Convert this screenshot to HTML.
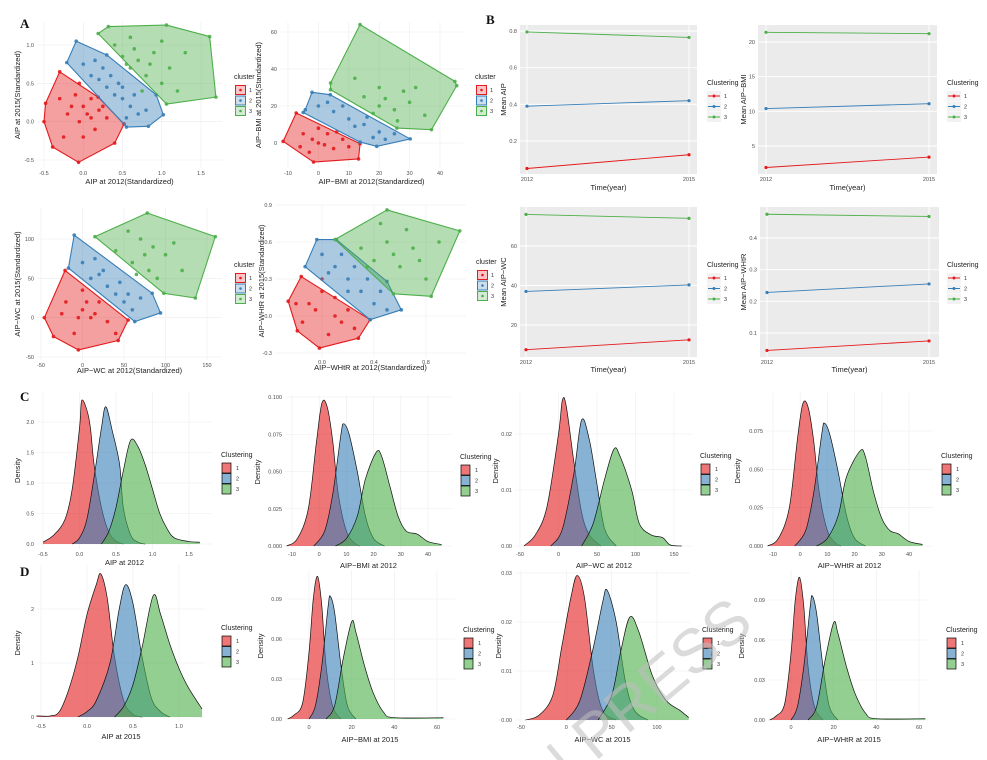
<!DOCTYPE html>
<html><head><meta charset="utf-8"><style>
html,body{margin:0;padding:0;background:#fff;overflow:hidden;width:987px;height:760px;}
svg{display:block;font-family:"Liberation Sans",sans-serif;overflow:hidden;}
</style></head><body>
<svg id="fig" width="987" height="760" viewBox="0 0 987 760" xmlns="http://www.w3.org/2000/svg"></svg>
<script>
// ---------- DATA ----------
const clusterNames = ["1","2","3"];
const years = [2012, 2015];
const b1Red=[0.05,0.125], b1Blue=[0.39,0.42], b1Green=[0.795,0.765];
const b2Red=[1.9,3.4], b2Blue=[10.4,11.1], b2Green=[21.4,21.2];
const b3Red=[7.5,12.5], b3Blue=[37,40.3], b3Green=[76,74];
const b4Red=[0.045,0.075], b4Blue=[0.228,0.255], b4Green=[0.475,0.468];
const a1RedHull=[[-0.30,0.65],[-0.48,0.24],[-0.5,0.0],[-0.39,-0.33],[-0.06,-0.53],[0.40,-0.28],[0.52,-0.03],[0.19,0.32]];
const a1BlueHull=[[-0.09,1.05],[0.30,0.87],[0.93,0.35],[1.02,0.09],[0.83,-0.06],[0.55,-0.07],[-0.21,0.77]];
const a1GreenHull=[[0.19,1.15],[0.32,1.24],[1.06,1.26],[1.61,1.11],[1.69,0.32],[1.06,0.23]];
const a1RedPts=[[-0.3,0.3],[-0.2,0.1],[-0.1,0.35],[0,0.2],[0.1,0.05],[0.2,0.15],[0,-0.2],[-0.25,-0.2],[0.15,-0.1],[0.3,0.05],[-0.05,0.5],[0.1,0.3],[-0.15,0.2],[0.05,0.1],[-0.05,0.0],[0.25,0.2]];
const a1BluePts=[[0,0.75],[0.1,0.6],[0.2,0.55],[0.3,0.45],[0.4,0.35],[0.5,0.3],[0.6,0.2],[0.7,0.1],[0.25,0.7],[0.45,0.5],[0.8,0.15],[0.55,0.05],[0.35,0.6],[0.5,0.45],[0.15,0.8],[0.65,0.35]];
const a1GreenPts=[[0.4,1.0],[0.5,0.85],[0.6,0.7],[0.7,0.8],[0.8,0.6],[0.9,0.9],[1.0,0.5],[1.1,0.7],[1.2,0.4],[0.6,1.1],[0.75,0.4],[1.3,0.9],[0.65,0.95],[0.85,0.75],[0.55,0.75],[1.0,1.05]];
const a2RedHull=[[-11.6,0.9],[-7.3,16.2],[13.7,-0.4],[13.2,-8.6],[-1.6,-10.3]];
const a2BlueHull=[[-4.3,18],[-2.1,27.4],[3.9,26.1],[30.2,2.2],[19.2,-1.8],[13.7,0.5],[-5,16.5]];
const a2GreenHull=[[4,32.4],[13.7,64],[44.9,33.3],[45.5,31],[37.2,7.2],[25.8,8.1],[4,28.8]];
const a2RedPts=[[-5,5],[0,0],[3,5],[5,-3],[-3,-5],[8,2],[0,8],[10,-2],[-2,2],[2,-1],[6,6],[-6,-2]];
const a2BluePts=[[0,20],[5,17],[10,13],[15,10],[20,6],[8,20],[18,3],[25,5],[12,9],[3,22],[16,14],[22,2]];
const a2GreenPts=[[15,25],[20,20],[25,18],[30,22],[20,30],[35,15],[12,35],[28,28],[22,24],[18,16],[26,12],[32,30]];
const a3RedHull=[[-21,60],[-46,0],[-35,-24],[-5,-41],[43,-29],[55,-3]];
const a3BlueHull=[[-10,105],[84,31],[94,6],[63,-5],[-17,63]];
const a3GreenHull=[[15,103],[78,133],[160,103],[136,25],[98,31]];
const a3RedPts=[[-20,20],[0,10],[10,0],[20,20],[-10,-20],[30,-5],[0,35],[40,-20],[-5,0],[15,5],[-25,5],[5,20]];
const a3BluePts=[[0,70],[20,55],[30,40],[40,30],[50,20],[60,10],[15,75],[70,25],[25,60],[45,45],[10,50],[55,30]];
const a3GreenPts=[[40,85],[60,70],[80,60],[70,100],[100,80],[90,50],[120,60],[55,110],[75,80],[65,55],[85,90],[110,95]];
const a4RedHull=[[-0.16,0.32],[-0.26,0.12],[-0.19,-0.12],[-0.02,-0.26],[0.28,-0.18],[0.37,-0.03]];
const a4BlueHull=[[-0.04,0.62],[0.11,0.62],[0.50,0.28],[0.61,0.05],[0.37,-0.03],[-0.13,0.40]];
const a4GreenHull=[[0.10,0.62],[0.50,0.86],[1.06,0.69],[0.84,0.16],[0.55,0.18]];
const a4RedPts=[[-0.1,0.1],[0,0.2],[0.1,0],[0.2,0.05],[-0.15,-0.05],[0.05,-0.15],[0.25,-0.1],[0.0,0.3],[-0.05,0.05],[0.1,0.15],[-0.2,0.1],[0.15,-0.05]];
const a4BluePts=[[0,0.5],[0.1,0.4],[0.2,0.3],[0.3,0.2],[0.4,0.1],[0.5,0.05],[0.15,0.5],[0.45,0.2],[0.25,0.4],[0.05,0.35],[0.35,0.3],[0.2,0.2]];
const a4GreenPts=[[0.3,0.55],[0.4,0.45],[0.5,0.6],[0.6,0.4],[0.7,0.55],[0.8,0.3],[0.45,0.75],[0.9,0.6],[0.55,0.5],[0.35,0.4],[0.65,0.7],[0.75,0.45]];
const c1Red=[[-0.5,0.03],[-0.35,0.15],[-0.2,0.4],[-0.1,0.9],[0,1.9],[0.03,2.35],[0.1,2.2],[0.15,1.9],[0.2,1.3],[0.3,0.6],[0.4,0.2],[0.5,0.05],[0.6,0]];
const c1Blue=[[-0.1,0],[0,0.1],[0.1,0.4],[0.2,1.1],[0.3,1.9],[0.36,2.25],[0.45,1.85],[0.55,1.3],[0.6,0.6],[0.7,0.15],[0.8,0.03],[0.9,0]];
const c1Green=[[0.3,0],[0.4,0.2],[0.5,0.6],[0.6,1.2],[0.7,1.7],[0.8,1.6],[0.9,1.3],[1.0,0.9],[1.1,0.5],[1.2,0.25],[1.3,0.1],[1.5,0.04],[1.65,0.03]];
const c2Red=[[-12,0],[-8,0.005],[-4,0.025],[-1,0.07],[1,0.096],[3,0.093],[5,0.07],[7,0.035],[10,0.01],[13,0.002],[15,0]];
const c2Blue=[[-2,0],[2,0.01],[5,0.035],[8,0.075],[9,0.082],[11,0.075],[14,0.05],[17,0.02],[20,0.005],[24,0]];
const c2Green=[[6,0],[10,0.005],[14,0.02],[17,0.045],[21,0.063],[23,0.06],[26,0.04],[29,0.02],[32,0.01],[36,0.008],[40,0.003],[45,0.001]];
const c3Red=[[-45,0],[-30,0.002],[-15,0.007],[0,0.02],[5,0.026],[10,0.025],[20,0.015],[30,0.006],[40,0.002],[55,0]];
const c3Blue=[[-10,0],[5,0.003],[20,0.013],[30,0.0225],[40,0.019],[50,0.011],[60,0.003],[75,0]];
const c3Green=[[30,0],[45,0.004],[60,0.012],[72,0.0173],[80,0.016],[95,0.01],[105,0.004],[120,0.002],[135,0.0015],[145,0.0002],[160,0]];
const c4Red=[[-12,0],[-8,0.005],[-4,0.025],[-1,0.07],[1,0.093],[3,0.09],[5,0.068],[7,0.035],[10,0.01],[13,0.002],[15,0]];
const c4Blue=[[-2,0],[2,0.01],[5,0.035],[8,0.074],[9,0.08],[11,0.072],[14,0.048],[17,0.02],[20,0.005],[24,0]];
const c4Green=[[6,0],[10,0.005],[14,0.02],[17,0.045],[22,0.062],[24,0.058],[27,0.035],[30,0.018],[33,0.01],[36,0.008],[40,0.003],[45,0.001]];
const d1Red=[[-0.55,0.02],[-0.4,0.02],[-0.3,0.1],[-0.2,0.5],[-0.1,1.1],[0,1.9],[0.1,2.45],[0.15,2.65],[0.22,2.2],[0.3,1.1],[0.4,0.3],[0.5,0.05],[0.6,0]];
const d1Blue=[[-0.1,0],[0,0.1],[0.1,0.3],[0.25,1.0],[0.35,2.0],[0.42,2.45],[0.5,2.1],[0.6,1.1],[0.7,0.35],[0.8,0.1],[0.9,0]];
const d1Green=[[0.3,0],[0.4,0.2],[0.5,0.6],[0.6,1.3],[0.72,2.25],[0.8,1.9],[0.9,1.35],[1.0,0.9],[1.1,0.55],[1.25,0.15]];
const d2Red=[[-10,0],[-7,0.003],[-3,0.012],[0,0.05],[2,0.09],[4,0.107],[6,0.085],[8,0.04],[11,0.01],[15,0]];
const d2Blue=[[0,0],[3,0.01],[6,0.04],[9,0.085],[10,0.092],[12,0.08],[15,0.04],[18,0.01],[22,0]];
const d2Green=[[8,0],[12,0.01],[16,0.045],[20,0.073],[22,0.065],[26,0.04],[30,0.02],[35,0.005],[40,0.001],[63,0.001]];
const d3Red=[[-45,0],[-30,0.001],[-15,0.005],[-5,0.015],[5,0.025],[12,0.0295],[20,0.025],[30,0.01],[40,0.002],[55,0]];
const d3Blue=[[0,0],[15,0.004],[30,0.015],[40,0.024],[45,0.0265],[55,0.02],[65,0.008],[75,0.002],[90,0]];
const d3Green=[[35,0],[50,0.005],[60,0.014],[70,0.021],[80,0.018],[95,0.009],[110,0.004],[125,0.002],[135,0.0005]];
const d4Red=[[-10,0],[-7,0.003],[-3,0.012],[0,0.05],[2,0.09],[4,0.107],[6,0.085],[8,0.04],[11,0.01],[15,0]];
const d4Blue=[[0,0],[3,0.01],[6,0.04],[9,0.085],[10,0.093],[12,0.08],[15,0.04],[18,0.01],[22,0]];
const d4Green=[[8,0],[12,0.01],[16,0.045],[20,0.073],[22,0.065],[26,0.04],[30,0.02],[35,0.005],[40,0.001],[63,0.001]];
const tA1x=["-0.5","0.0","0.5","1.0","1.5"], tA1y=["-0.5","0.0","0.5","1.0"];
const tA2x=["-10","0","10","20","30","40"], tA2y=["0","20","40","60"];
const tA3x=["-50","0","50","100","150"], tA3y=["-50","0","50","100"];
const tA4x=["0.0","0.4","0.8"], tA4y=["-0.3","0.0","0.3","0.6","0.9"];
const tBx=["2012","2015"];
const tB1y=["0.2","0.4","0.6","0.8"], tB2y=["5","10","15","20"], tB3y=["20","40","60"], tB4y=["0.1","0.2","0.3","0.4"];
const tC1x=["-0.5","0.0","0.5","1.0","1.5"], tC1y=["0.0","0.5","1.0","1.5","2.0"];
const tC2x=["-10","0","10","20","30","40"], tC2y=["0.000","0.025","0.050","0.075","0.100"];
const tC3x=["-50","0","50","100","150"], tC3y=["0.00","0.01","0.02"];
const tC4x=["-10","0","10","20","30","40"], tC4y=["0.000","0.025","0.050","0.075"];
const tD1x=["-0.5","0.0","0.5","1.0"], tD1y=["0","1","2"];
const tD2x=["0","20","40","60"], tD2y=["0.00","0.03","0.06","0.09"];
const tD3x=["-50","0","50","100"], tD3y=["0.00","0.01","0.02","0.03"];
const tD4x=["0","20","40","60"], tD4y=["0.00","0.03","0.06","0.09"];

// ---------- RENDER ----------
const NS="http://www.w3.org/2000/svg";
const svg=document.getElementById('fig');
const COL=["#E41A1C","#377EB8","#4DAF4A"];
function mk(tag,attrs,parent){const e=document.createElementNS(NS,tag);for(const k in attrs)e.setAttribute(k,attrs[k]);(parent||svg).appendChild(e);return e;}
function lin(d0,p0,d1,p1){return v=>p0+(v-d0)*(p1-p0)/(d1-d0);}
function txt(x,y,s,size,opts,parent){const t=mk('text',Object.assign({x:x,y:y,'font-size':size,fill:'#4d4d4d'},opts||{}),parent);t.textContent=s;return t;}
function smooth(pts){let d="M"+pts[0][0]+","+pts[0][1];for(let i=0;i<pts.length-1;i++){const p0=pts[i-1]||pts[i],p1=pts[i],p2=pts[i+1],p3=pts[i+2]||p2;const c1x=p1[0]+(p2[0]-p0[0])/6,c1y=p1[1]+(p2[1]-p0[1])/6,c2x=p2[0]-(p3[0]-p1[0])/6,c2y=p2[1]-(p3[1]-p1[1])/6;d+=` C${c1x},${c1y} ${c2x},${c2y} ${p2[0]},${p2[1]}`;}return d;}

function axes(P){
  const g=mk('g',{});
  
  
  const [l,t,r,b]=P.box;
  const sx=lin(P.xm[0],P.xm[1],P.xm[2],P.xm[3]), sy=lin(P.ym[0],P.ym[1],P.ym[2],P.ym[3]);
  const bg=mk('rect',{x:l,y:t,width:r-l,height:b-t,fill:P.gray?'#EBEBEB':'#fff'},g);
  
  
  const gc=P.gray?'#fff':'#ececec';
  P.xt.forEach(s=>{const x=sx(parseFloat(s));if(x<l-1||x>r+1)return;mk('line',{x1:x,x2:x,y1:t,y2:b,stroke:gc,'stroke-width':P.gray?0.9:0.6},g);
    const tl=txt(x,b+7,s,5.5,{'text-anchor':'middle'},g);
    
    });
  P.yt.forEach(s=>{const y=sy(parseFloat(s));mk('line',{x1:l,x2:r,y1:y,y2:y,stroke:gc,'stroke-width':P.gray?0.9:0.6},g);
    const tl=txt(l-3,y+2,s,5.5,{'text-anchor':'end'},g);
    
    });
  const xt=txt((l+r)/2,P.xty,P.xtitle,7.5,{'text-anchor':'middle',fill:'#222'},g);
  
  
  const yy=(t+b)/2;
  const yt=txt(P.ytx,yy,P.ytitle,7.5,{'text-anchor':'middle',fill:'#222',transform:`rotate(-90 ${P.ytx} ${yy})`},g);
  
  
  return {g,sx,sy};
}

function legend(type,x,y,title){
  const g=mk('g',{});
  
  
  const tt=txt(x,y,title,7,{fill:'#222'},g);
  
  
  for(let i=0;i<3;i++){
    const cy=y+11+i*10.5;
    const e=mk('g',{},g);
    
    
    if(type==='a'){mk('rect',{x:x+1.5,y:cy-4.5,width:10,height:9,fill:COL[i],'fill-opacity':0.25,stroke:COL[i],'stroke-width':1},e);mk('circle',{cx:x+6.5,cy:cy,r:1.3,fill:COL[i]},e);}
    else if(type==='b'){mk('rect',{x:x,y:cy-5,width:14,height:10,fill:'#F2F2F2'},e);mk('line',{x1:x+1,x2:x+13,y1:cy,y2:cy,stroke:COL[i],'stroke-width':1},e);mk('circle',{cx:x+7,cy:cy,r:1.5,fill:COL[i]},e);}
    else {mk('rect',{x:x+1,y:cy-5,width:9,height:10,fill:COL[i],'fill-opacity':0.6,stroke:'#000','stroke-width':0.7},e);}
    txt(x+(type==='b'?17:15),cy+2,clusterNames[i],5.5,{fill:'#333'},e);
  }
}

function scatterPanel(P,hulls,pts){
  const A=axes(P);
  for(let i=0;i<3;i++){
    const d="M"+hulls[i].map(p=>A.sx(p[0])+","+A.sy(p[1])).join("L")+"Z";
    const h=mk('path',{d:d,fill:COL[i],'fill-opacity':0.42,stroke:COL[i],'stroke-width':1.1,'stroke-linejoin':'round'},A.g);
    
    
    const cg=mk('g',{},A.g);
    
    
    hulls[i].concat(pts[i]).forEach(p=>{
      const c=mk('circle',{cx:A.sx(p[0]),cy:A.sy(p[1]),r:1.8,fill:COL[i],'fill-opacity':0.9},cg);
      
      
    });
  }
}
function linePanel(P,series){
  const A=axes(P);
  series.forEach((s,i)=>{
    const pts=years.map((yr,j)=>[A.sx(yr),A.sy(s[j])]);
    const l=mk('polyline',{points:pts.map(p=>p.join(",")).join(" "),fill:'none',stroke:COL[i],'stroke-width':0.9},A.g);
    
    
    pts.forEach(p=>{const c=mk('circle',{cx:p[0],cy:p[1],r:1.6,fill:COL[i]},A.g);
      
      });
  });
}
function densityPanel(P,series){
  const A=axes(P);
  series.forEach((s,i)=>{
    const pts=s.map(p=>[A.sx(p[0]),A.sy(p[1])]);
    const top=smooth(pts);
    const d=top+` L${pts[pts.length-1][0]},${A.sy(0)} L${pts[0][0]},${A.sy(0)} Z`;
    const a=mk('path',{d:d,fill:COL[i],'fill-opacity':0.6,stroke:'none'},A.g);
    
    
    const l=mk('path',{d:top,fill:'none',stroke:'#111','stroke-width':0.7},A.g);
    
    
  });
}

scatterPanel({name:'panel-a1',box:[37,22,222,168],xm:[-0.5,44,1.5,201],ym:[1.0,45,-0.5,160],xt:tA1x,yt:tA1y,xtitle:'AIP at 2012(Standardized)',ytitle:'AIP at 2015(Standardized)',xty:184,ytx:20},[a1RedHull,a1BlueHull,a1GreenHull],[a1RedPts,a1BluePts,a1GreenPts]);
legend('a',234,79,'cluster');
scatterPanel({name:'panel-a2',box:[280,22,463,168],xm:[-10,288,40,440],ym:[60,32,0,143],xt:tA2x,yt:tA2y,xtitle:'AIP−BMI at 2012(Standardized)',ytitle:'AIP−BMI at 2015(Standardized)',xty:184,ytx:261},[a2RedHull,a2BlueHull,a2GreenHull],[a2RedPts,a2BluePts,a2GreenPts]);
legend('a',475,79,'cluster');
scatterPanel({name:'panel-a3',box:[37,208,222,360],xm:[-50,41,150,207],ym:[100,239,-50,357],xt:tA3x,yt:tA3y,xtitle:'AIP−WC at 2012(Standardized)',ytitle:'AIP−WC at 2015(Standardized)',xty:373,ytx:20},[a3RedHull,a3BlueHull,a3GreenHull],[a3RedPts,a3BluePts,a3GreenPts]);
legend('a',234,267,'cluster');
scatterPanel({name:'panel-a4',box:[275,205,466,357],xm:[0,322,0.8,426],ym:[0.9,205,-0.3,353],xt:tA4x,yt:tA4y,xtitle:'AIP−WHtR at 2012(Standardized)',ytitle:'AIP−WHtR at 2015(Standardized)',xty:370,ytx:264},[a4RedHull,a4BlueHull,a4GreenHull],[a4RedPts,a4BluePts,a4GreenPts]);
legend('a',476,264,'cluster');

linePanel({name:'panel-b1',gray:true,box:[520,25,697,174],xm:[2012,527,2015,689],ym:[0.8,31,0.2,141],xt:tBx,yt:tB1y,xtitle:'Time(year)',ytitle:'Mean AIP',xty:190,ytx:506},[b1Red,b1Blue,b1Green]);
legend('b',707,85,'Clustering');
linePanel({name:'panel-b2',gray:true,box:[758,25,937,174],xm:[2012,766,2015,929],ym:[20,42,5,146],xt:tBx,yt:tB2y,xtitle:'Time(year)',ytitle:'Mean AIP−BMI',xty:190,ytx:746},[b2Red,b2Blue,b2Green]);
legend('b',947,85,'Clustering');
linePanel({name:'panel-b3',gray:true,box:[520,207,697,357],xm:[2012,526,2015,689],ym:[60,246,20,325],xt:tBx,yt:tB3y,xtitle:'Time(year)',ytitle:'Mean AIP−WC',xty:372,ytx:506},[b3Red,b3Blue,b3Green]);
legend('b',707,267,'Clustering');
linePanel({name:'panel-b4',gray:true,box:[760,207,939,357],xm:[2012,767,2015,929],ym:[0.4,238,0.1,333],xt:tBx,yt:tB4y,xtitle:'Time(year)',ytitle:'Mean AIP−WHtR',xty:372,ytx:746},[b4Red,b4Blue,b4Green]);
legend('b',947,267,'Clustering');

densityPanel({name:'panel-c1',box:[37,392,212,549],xm:[-0.5,43,1.5,189],ym:[2.0,422,0,544],xt:tC1x,yt:tC1y,xtitle:'AIP at 2012',ytitle:'Density',xty:565,ytx:20},[c1Red,c1Blue,c1Green]);
legend('c',221,457,'Clustering');
densityPanel({name:'panel-c2',box:[285,395,452,549],xm:[-10,292,40,428],ym:[0.1,397,0,546],xt:tC2x,yt:tC2y,xtitle:'AIP−BMI at 2012',ytitle:'Density',xty:568,ytx:260},[c2Red,c2Blue,c2Green]);
legend('c',460,459,'Clustering');
densityPanel({name:'panel-c3',box:[515,393,693,549],xm:[-50,520,150,674],ym:[0.02,434,0,546],xt:tC3x,yt:tC3y,xtitle:'AIP−WC at 2012',ytitle:'Density',xty:568,ytx:498},[c3Red,c3Blue,c3Green]);
legend('c',700,458,'Clustering');
densityPanel({name:'panel-c4',box:[766,393,933,549],xm:[-10,773,40,909],ym:[0.075,431,0,546],xt:tC4x,yt:tC4y,xtitle:'AIP−WHtR at 2012',ytitle:'Density',xty:568,ytx:740},[c4Red,c4Blue,c4Green]);
legend('c',941,458,'Clustering');

densityPanel({name:'panel-d1',box:[37,565,205,721],xm:[-0.5,41,1.0,179],ym:[2,609,0,717],xt:tD1x,yt:tD1y,xtitle:'AIP at 2015',ytitle:'Density',xty:739,ytx:20},[d1Red,d1Blue,d1Green]);
legend('c',221,630,'Clustering');
densityPanel({name:'panel-d2',box:[285,570,455,722],xm:[0,309,60,437],ym:[0.09,599,0,719],xt:tD2x,yt:tD2y,xtitle:'AIP−BMI at 2015',ytitle:'Density',xty:742,ytx:263},[d2Red,d2Blue,d2Green]);
legend('c',463,632,'Clustering');
densityPanel({name:'panel-d3',box:[515,570,690,722],xm:[-50,521,100,657],ym:[0.03,573,0,720],xt:tD3x,yt:tD3y,xtitle:'AIP−WC at 2015',ytitle:'Density',xty:742,ytx:501},[d3Red,d3Blue,d3Green]);
legend('c',702,632,'Clustering');
densityPanel({name:'panel-d4',box:[768,570,930,722],xm:[0,791,60,919],ym:[0.09,600,0,720],xt:tD4x,yt:tD4y,xtitle:'AIP−WHtR at 2015',ytitle:'Density',xty:742,ytx:744},[d4Red,d4Blue,d4Green]);
legend('c',946,632,'Clustering');

[["A",20,28],["B",486,24],["C",20,401],["D",20,576]].forEach(a=>{
  const t=txt(a[1],a[2],a[0],13,{'font-family':'"Liberation Serif",serif','font-weight':'bold',fill:'#111'});
  
  
});
const wm=txt(645,720,"IN PRESS",62,{'text-anchor':'middle',fill:'#bdbdbd','fill-opacity':0.55,transform:'rotate(-40 645 720)','font-family':'"Liberation Sans",sans-serif'});


</script>
</body></html>
